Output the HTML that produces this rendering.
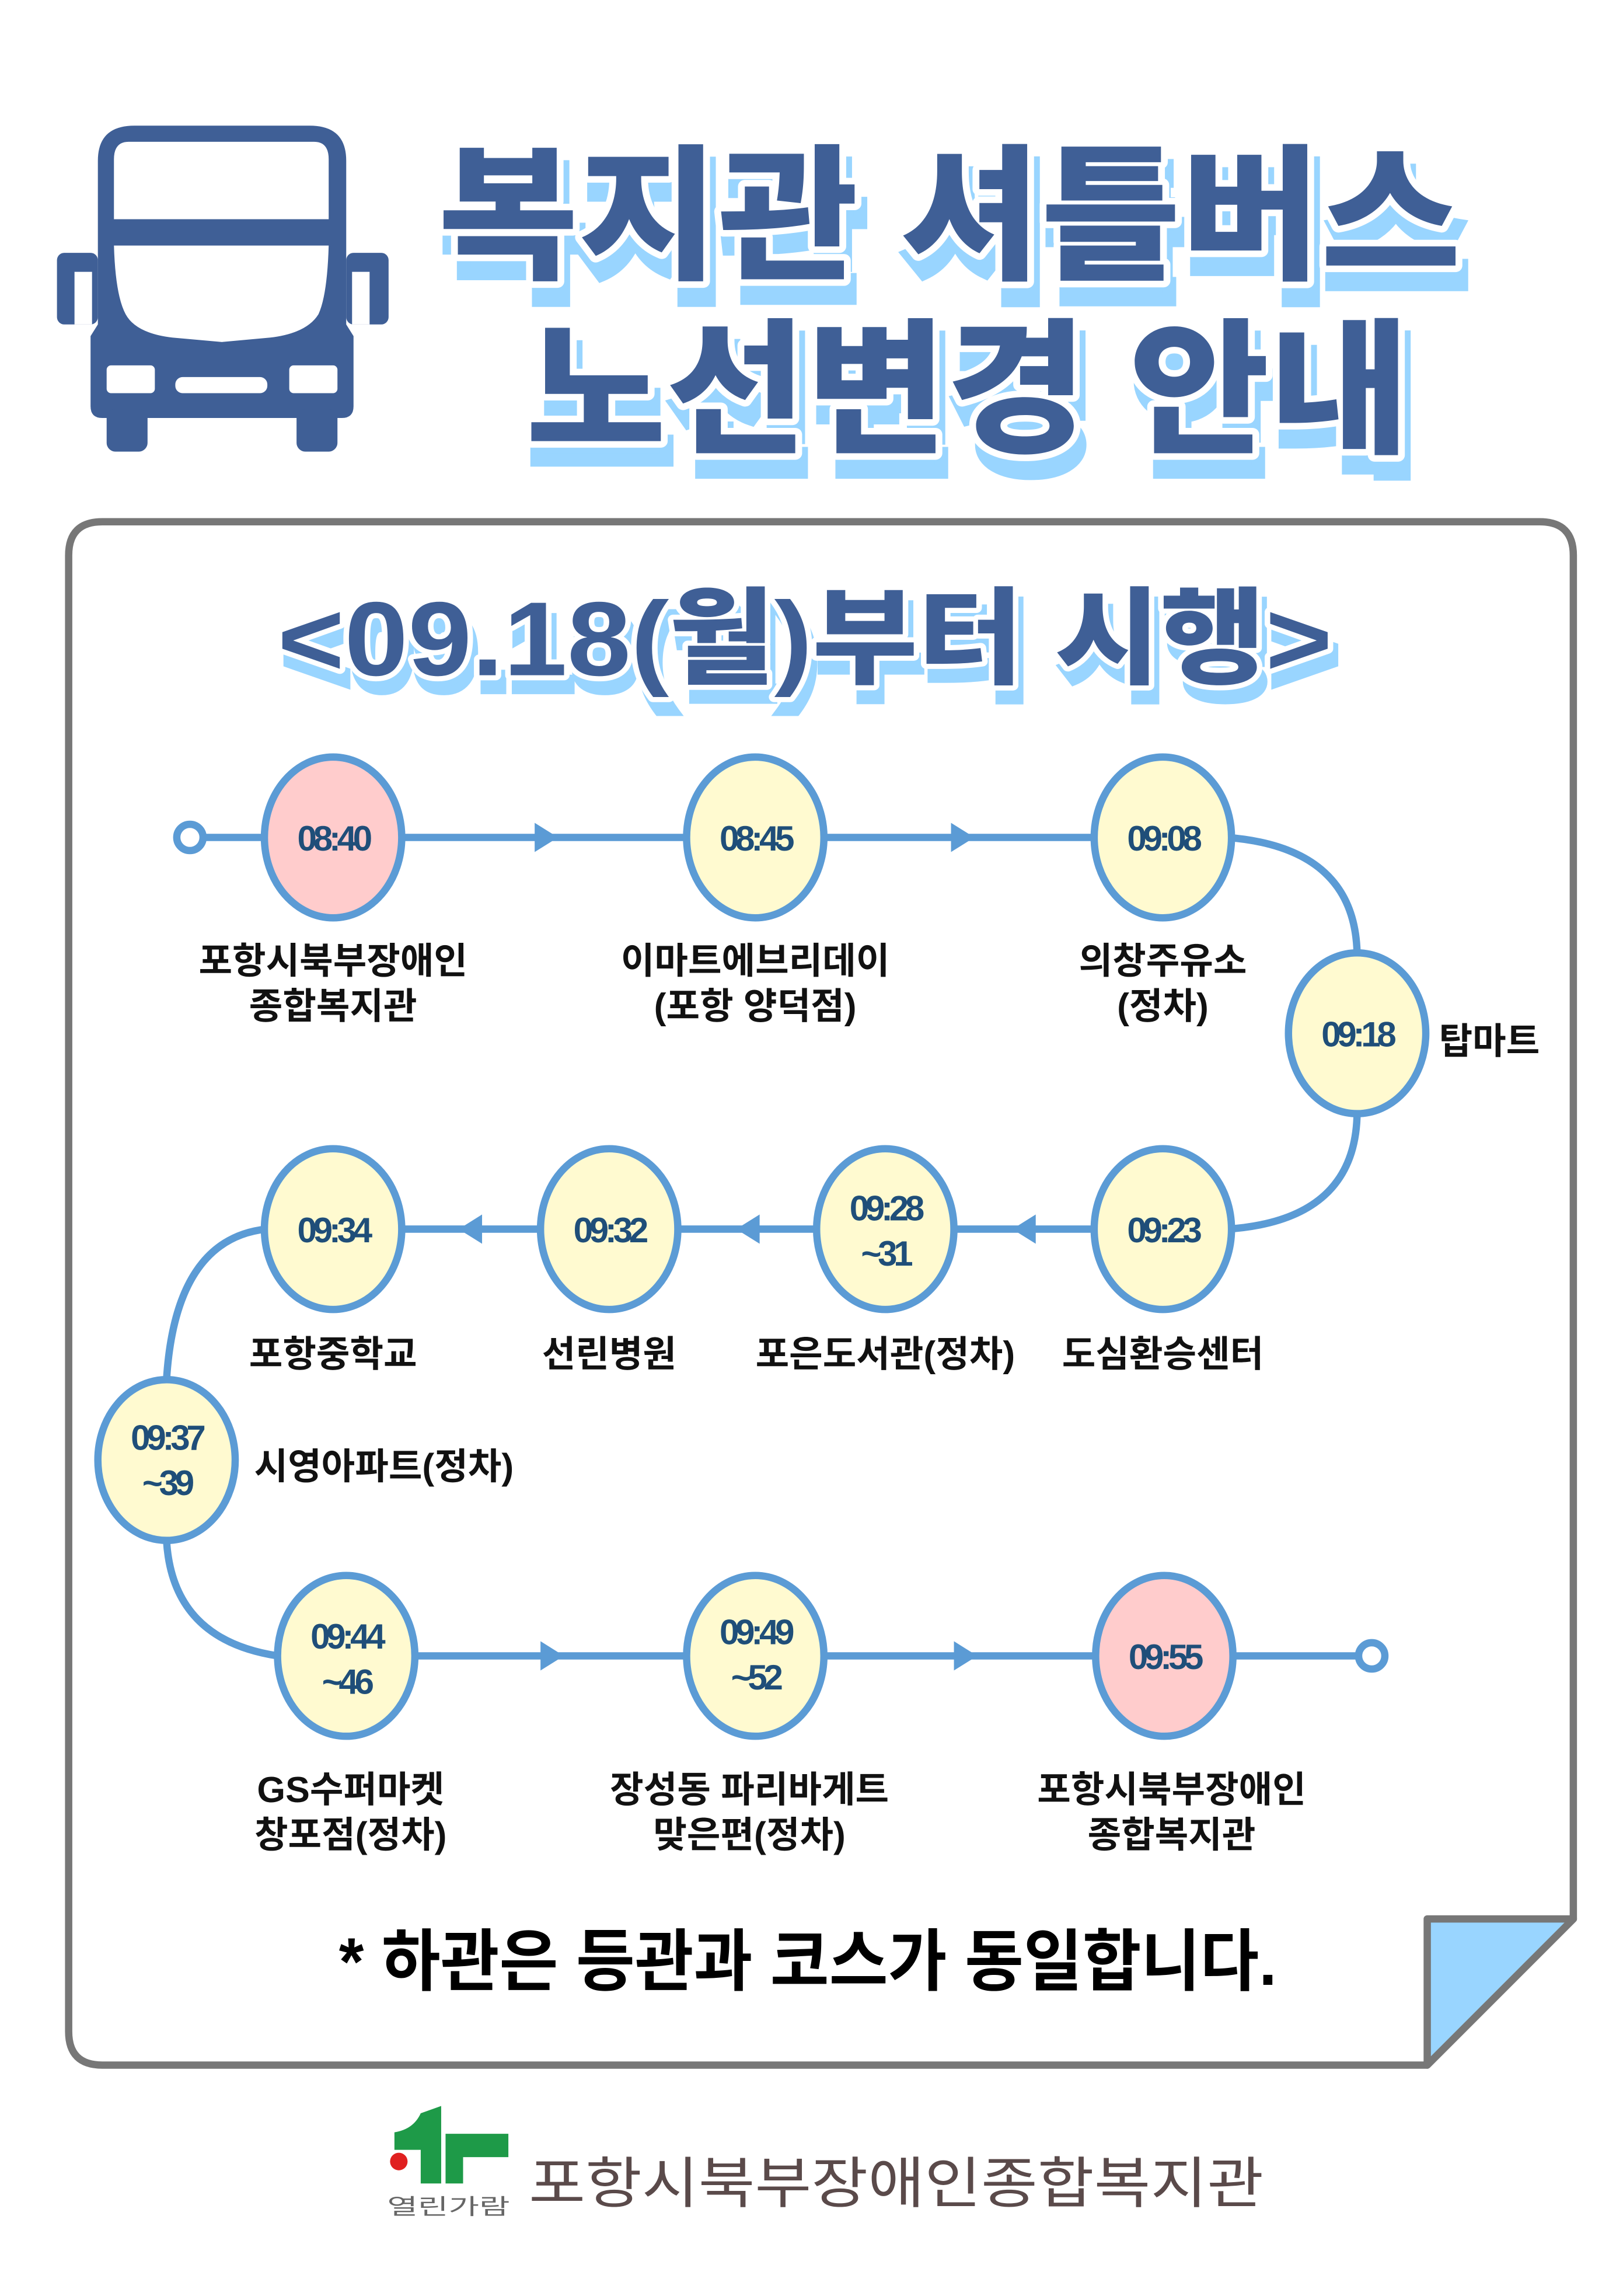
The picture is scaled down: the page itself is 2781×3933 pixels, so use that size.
<!DOCTYPE html>
<html><head><meta charset="utf-8"><style>
html,body{margin:0;padding:0;background:#fff;}
svg{display:block;}
text{font-family:"Liberation Sans","Noto Sans CJK KR",sans-serif;}
.t{font-family:"Noto Sans CJK KR","NanumGothic",sans-serif;font-weight:900;}
.lb{font-family:"Liberation Sans","Noto Sans CJK KR",sans-serif;font-weight:700;font-size:25px;fill:#111;text-anchor:middle;}
.tm{font-family:"Liberation Sans Narrow","Liberation Sans",sans-serif;font-weight:700;font-size:24px;fill:#1f4e79;text-anchor:middle;letter-spacing:-2.5px;}
</style></head><body>
<svg width="2781" height="3933" viewBox="0 0 1111 1571" preserveAspectRatio="none" xmlns="http://www.w3.org/2000/svg">
<rect width="1111" height="1571" fill="#fff"/>
<g fill="#3f5f96">
<path d="M67 110 Q67 86 92 86 L212 86 Q237 86 237 110 L237 222 L242 230 L242 278 Q242 286 234 286 L70 286 Q62 286 62 278 L62 230 L67 222 Z"/>
<rect x="39" y="173" width="28" height="49" rx="5"/>
<rect x="237" y="173" width="29" height="49" rx="5"/>
<rect x="73" y="280" width="28" height="29" rx="6"/>
<rect x="203" y="280" width="28" height="29" rx="6"/>
</g>
<g fill="#fff">
<rect x="51" y="186" width="12" height="36"/>
<rect x="241" y="186" width="12" height="36"/>
<path d="M78 109 Q78 97 88 97 L215 97 Q225 97 225 109 L225 150 L78 150 Z"/>
<path d="M78 168 L225 168 Q224 202 218 215 Q210 228 185 231 L152 234 L118 231 Q93 228 86 215 Q79 202 78 168 Z"/>
<rect x="73" y="250" width="33" height="19" rx="3"/>
<rect x="198" y="250" width="33" height="19" rx="3"/>
<rect x="120" y="258" width="63" height="11" rx="5"/>
</g>
<g class="t" font-size="100">
<text x="304" y="196" textLength="700" lengthAdjust="spacingAndGlyphs" fill="#99d5ff" stroke="#99d5ff" stroke-width="9">복지관 셔틀버스</text>
<text x="300" y="183" textLength="700" lengthAdjust="spacingAndGlyphs" fill="#3f5f96" stroke="#fff" stroke-width="9" stroke-linejoin="round">복지관 셔틀버스</text>
<text x="300" y="183" textLength="700" lengthAdjust="spacingAndGlyphs" fill="#3f5f96">복지관 셔틀버스</text>
<text x="364" y="315" textLength="605" lengthAdjust="spacingAndGlyphs" fill="#99d5ff" stroke="#99d5ff" stroke-width="9">노선변경 안내</text>
<text x="360" y="302" textLength="605" lengthAdjust="spacingAndGlyphs" fill="#3f5f96" stroke="#fff" stroke-width="9" stroke-linejoin="round">노선변경 안내</text>
<text x="360" y="302" textLength="605" lengthAdjust="spacingAndGlyphs" fill="#3f5f96">노선변경 안내</text>
</g>
<path d="M47 380 Q47 357 70 357 L1054 357 Q1077 357 1077 380 L1077 1313 L977 1413 L70 1413 Q47 1413 47 1390 Z" fill="#fff" stroke="#777" stroke-width="5" stroke-linejoin="round"/>
<path d="M977 1313 L1077 1313 L977 1413 Z" fill="#99d5ff" stroke="#777" stroke-width="5" stroke-linejoin="round"/>
<g class="t" font-size="72">
<text x="194" y="472" textLength="722" lengthAdjust="spacingAndGlyphs" fill="#99d5ff" stroke="#99d5ff" stroke-width="6">&lt;09.18(월)부터 시행&gt;</text>
<text x="190" y="462" textLength="722" lengthAdjust="spacingAndGlyphs" fill="#3f5f96" stroke="#fff" stroke-width="7" stroke-linejoin="round">&lt;09.18(월)부터 시행&gt;</text>
<text x="190" y="462" textLength="722" lengthAdjust="spacingAndGlyphs" fill="#3f5f96">&lt;09.18(월)부터 시행&gt;</text>
</g>
<g fill="none" stroke="#5b9bd5" stroke-width="5">
<line x1="140" y1="573" x2="796" y2="573"/>
<path d="M840 573 Q929 580 929 655"/>
<path d="M929 760 Q929 835 840 841"/>
<line x1="228" y1="841" x2="796" y2="841"/>
<path d="M182 841 Q120 848 114 944"/>
<path d="M114 1054 Q118 1122 190 1133"/>
<line x1="237" y1="1133" x2="928" y2="1133"/>
</g>
<circle cx="130" cy="573" r="9" fill="#fff" stroke="#5b9bd5" stroke-width="5"/>
<circle cx="939" cy="1133" r="9" fill="#fff" stroke="#5b9bd5" stroke-width="5"/>
<g fill="#5b9bd5">
<path d="M366 563 L382 573 L366 583 Z"/>
<path d="M651 563 L667 573 L651 583 Z"/>
<path d="M330 831 L314 841 L330 851 Z"/>
<path d="M520 831 L504 841 L520 851 Z"/>
<path d="M709 831 L693 841 L709 851 Z"/>
<path d="M370 1123 L386 1133 L370 1143 Z"/>
<path d="M653 1123 L669 1133 L653 1143 Z"/>
</g>
<g stroke="#5b9bd5" stroke-width="5">
<ellipse cx="228" cy="573" rx="47" ry="55" fill="#ffcccc"/>
<ellipse cx="517" cy="573" rx="47" ry="55" fill="#fffad0"/>
<ellipse cx="796" cy="573" rx="47" ry="55" fill="#fffad0"/>
<ellipse cx="929" cy="707" rx="47" ry="55" fill="#fffad0"/>
<ellipse cx="796" cy="841" rx="47" ry="55" fill="#fffad0"/>
<ellipse cx="606" cy="841" rx="47" ry="55" fill="#fffad0"/>
<ellipse cx="417" cy="841" rx="47" ry="55" fill="#fffad0"/>
<ellipse cx="228" cy="841" rx="47" ry="55" fill="#fffad0"/>
<ellipse cx="114" cy="999" rx="47" ry="55" fill="#fffad0"/>
<ellipse cx="237" cy="1133" rx="47" ry="55" fill="#fffad0"/>
<ellipse cx="517" cy="1133" rx="47" ry="55" fill="#fffad0"/>
<ellipse cx="797" cy="1133" rx="47" ry="55" fill="#ffcccc"/>
</g>
<g class="tm">
<text x="228" y="582">08:40</text>
<text x="517" y="582">08:45</text>
<text x="796" y="582">09:08</text>
<text x="929" y="716">09:18</text>
<text x="796" y="850">09:23</text>
<text x="606" y="835">09:28</text><text x="606" y="866">~31</text>
<text x="417" y="850">09:32</text>
<text x="228" y="850">09:34</text>
<text x="114" y="992">09:37</text><text x="114" y="1023">~39</text>
<text x="237" y="1128">09:44</text><text x="237" y="1159">~46</text>
<text x="517" y="1125">09:49</text><text x="517" y="1156">~52</text>
<text x="797" y="1142">09:55</text>
</g>
<g class="lb">
<text x="228" y="666">포항시북부장애인</text><text x="228" y="697">종합복지관</text>
<text x="517" y="666">이마트에브리데이</text><text x="517" y="697">(포항 양덕점)</text>
<text x="796" y="666">의창주유소</text><text x="796" y="697">(정차)</text>
<text x="985" y="721" text-anchor="start">탑마트</text>
<text x="228" y="935">포항중학교</text>
<text x="417" y="935">선린병원</text>
<text x="606" y="935">포은도서관(정차)</text>
<text x="796" y="935">도심환승센터</text>
<text x="174" y="1012" text-anchor="start">시영아파트(정차)</text>
<text x="240" y="1233">GS수퍼마켓</text><text x="240" y="1264">창포점(정차)</text>
<text x="513" y="1233">장성동 파리바게트</text><text x="513" y="1264">맞은편(정차)</text>
<text x="802" y="1233">포항시북부장애인</text><text x="802" y="1264">종합복지관</text>
</g>
<text x="232" y="1358" font-size="46" font-weight="700" fill="#000" textLength="642" lengthAdjust="spacingAndGlyphs">* 하관은 등관과 코스가 동일합니다.</text>
<g>
<path d="M288 1446 L302 1441 L302 1494 L288 1494 L288 1471 L270 1471 L270 1459 Q283 1457 288 1446 Z" fill="#1e9a48"/>
<path d="M305 1460 L348 1460 L348 1476 L317 1476 L317 1494 L305 1494 Z" fill="#1e9a48"/>
<circle cx="273" cy="1479" r="6" fill="#e02020"/>
<text x="265" y="1515" font-size="15" fill="#666" textLength="84" lengthAdjust="spacingAndGlyphs">열린가람</text>
<text x="362" y="1507" font-size="38" fill="#5a4a4a" textLength="503" lengthAdjust="spacingAndGlyphs">포항시북부장애인종합복지관</text>
</g>
</svg>
</body></html>
